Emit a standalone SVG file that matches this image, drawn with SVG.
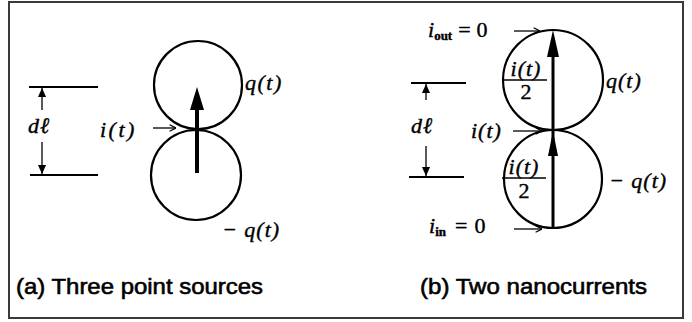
<svg xmlns="http://www.w3.org/2000/svg" width="692" height="322" viewBox="0 0 692 322">
<style>
.frame{fill:#fff;stroke:#3a3a3a;stroke-width:2}
.circ{fill:none;stroke:#000;stroke-width:2.2}
.dim{stroke:#000;stroke-width:2;fill:none}
.thin{stroke:#000;stroke-width:1.3;fill:none}
.math{font-family:"Liberation Serif","Times New Roman",serif;font-style:italic;font-size:22px;fill:#000;stroke:#000;stroke-width:0.4}
.num{font-family:"Liberation Serif","Times New Roman",serif;font-style:normal;font-size:22px;fill:#000;stroke:#000;stroke-width:0.4}
.sub{font-family:"Liberation Serif","Times New Roman",serif;font-style:normal;font-weight:bold;font-size:13px;fill:#000}
.cap{font-family:"Liberation Sans",Arial,sans-serif;font-size:22px;fill:#000;stroke:#000;stroke-width:0.6}
</style>
<defs>
<marker id="small" viewBox="0 0 10 10" refX="10" refY="5" markerWidth="8" markerHeight="8" markerUnits="userSpaceOnUse" orient="auto">
<path d="M2,1 L10,5 L2,9" fill="none" stroke="#000" stroke-width="1.6"/>
</marker>
<marker id="dimhead" viewBox="0 0 10 10" refX="10" refY="5" markerWidth="11" markerHeight="9" markerUnits="userSpaceOnUse" orient="auto">
<path d="M0,0.5 L10,5 L0,9.5 Z" fill="#000"/>
</marker>
</defs>
<rect class="frame" x="9" y="2" width="674" height="316"/>

<!-- Panel (a) -->
<g id="a-top-charge">
<circle class="circ" cx="198" cy="85" r="44"/>
<text class="math" x="245" y="90" letter-spacing="1.5">q(t)</text>
</g>
<g id="a-bottom-charge">
<circle class="circ" cx="196" cy="175" r="45"/>
<text class="math" x="222" y="237" letter-spacing="1">− q(t)</text>
</g>
<g id="a-dipole">
<line x1="197" y1="173" x2="197" y2="106" stroke="#000" stroke-width="4"/>
<polygon points="197,87 190,110 204,110" fill="#000"/>
</g>
<g id="a-current-label">
<text class="math" x="100" y="137" letter-spacing="2.5">i(t)</text>
</g>
<g id="a-dl">
<line class="dim" x1="29" y1="87" x2="98" y2="87"/>
<line class="dim" x1="30" y1="175" x2="98" y2="175"/>
<text class="math" x="28" y="133" letter-spacing="1">dℓ</text>
</g>
<g id="a-caption">
<text class="cap" x="16" y="294" textLength="247" lengthAdjust="spacingAndGlyphs">(a)  Three point sources</text>
</g>

<!-- Panel (b) -->
<g id="b-top-charge">
<circle class="circ" cx="553" cy="80" r="50"/>
<text class="math" x="606" y="88" letter-spacing="1">q(t)</text>
</g>
<g id="b-bottom-charge">
<circle class="circ" cx="553" cy="179" r="49"/>
<text class="math" x="609" y="188" letter-spacing="1">− q(t)</text>
</g>
<g id="b-frac-top">
<text class="math" x="526" y="76" text-anchor="middle" letter-spacing="1">i(t)</text>
<line x1="504" y1="80" x2="547" y2="80" stroke="#000" stroke-width="1.4"/>
<text class="num" x="526" y="99" text-anchor="middle">2</text>
</g>
<g id="b-frac-bottom">
<text class="math" x="524" y="174" text-anchor="middle" letter-spacing="1">i(t)</text>
<line x1="502" y1="178" x2="546" y2="178" stroke="#000" stroke-width="1.4"/>
<text class="num" x="524" y="198" text-anchor="middle">2</text>
</g>
<g id="b-iout">
<text class="math" x="428" y="37">i<tspan class="sub" dy="3">out</tspan><tspan class="num" dy="-3" dx="6">=</tspan><tspan class="num" dx="6">0</tspan></text>
</g>
<g id="b-it">
<text class="math" x="471" y="138" letter-spacing="1">i(t)</text>
</g>
<g id="b-iin">
<text class="math" x="429" y="233">i<tspan class="sub" dy="3">in</tspan><tspan class="num" dy="-3" dx="9">=</tspan><tspan class="num" dx="7">0</tspan></text>
</g>
<g id="b-dl">
<line class="dim" x1="411" y1="83" x2="466" y2="83"/>
<line class="dim" x1="409" y1="177" x2="464" y2="177"/>
<text class="math" x="411" y="133" letter-spacing="1">dℓ</text>
</g>
<g id="b-caption">
<text class="cap" x="420" y="294" textLength="227" lengthAdjust="spacingAndGlyphs">(b)  Two nanocurrents</text>
</g>

<g id="connectors">
<!-- (a) -->
<line class="thin" x1="153" y1="128" x2="176" y2="128" marker-end="url(#small)"/>
<line class="thin" x1="42" y1="110" x2="42" y2="88" marker-end="url(#dimhead)"/>
<line class="thin" x1="42" y1="142" x2="42" y2="174" marker-end="url(#dimhead)"/>
<!-- (b) -->
<line x1="553" y1="229" x2="553" y2="50" stroke="#000" stroke-width="3"/>
<polygon points="553,30 547,57 559,57" fill="#000"/>
<polygon points="553,131 548,156 558,156" fill="#000"/>
<line class="thin" x1="514" y1="31" x2="540" y2="31" marker-end="url(#small)"/>
<line class="thin" x1="513" y1="131" x2="542" y2="131" marker-end="url(#small)"/>
<line class="thin" x1="514" y1="229" x2="542" y2="229" marker-end="url(#small)"/>
<line class="thin" x1="426" y1="100" x2="426" y2="84" marker-end="url(#dimhead)"/>
<line class="thin" x1="426" y1="146" x2="426" y2="176" marker-end="url(#dimhead)"/>
</g>
</svg>
